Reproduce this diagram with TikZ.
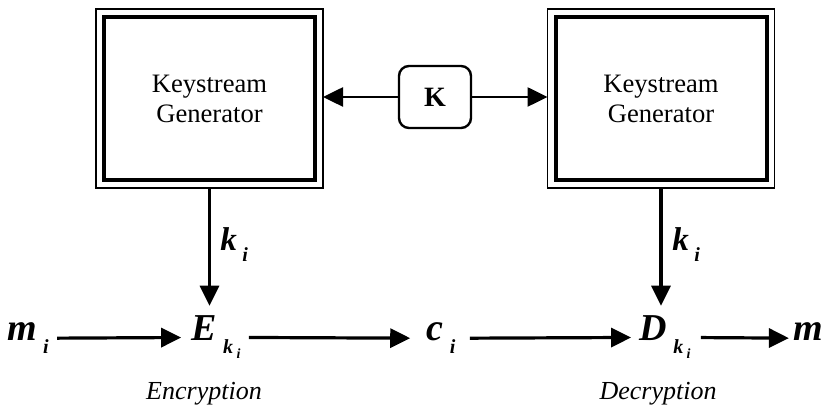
\documentclass[tikz,border=0pt]{standalone}
\usepackage{fontspec}
\setmainfont{Liberation Serif}
\usetikzlibrary{arrows.meta}
\newcommand{\bisub}[2]{{\bfseries\itshape #1}\,\raisebox{-0.33em}{\fontsize{10}{10}\selectfont\bfseries\itshape #2}}
\newcommand{\kisub}{k\,\raisebox{-2.5pt}{\fontsize{7}{7}\selectfont i}}

\begin{document}
\begin{tikzpicture}[x=0.5pt,y=-0.5pt,
    gen/.style={draw,line width=2pt,minimum width=105.5pt,minimum height=81.5pt,outer sep=4pt,
      align=center,font=\fontsize{13.3}{15}\selectfont},
    frame/.style={draw,line width=0.8pt},
    keybox/.style={draw,line width=1.2pt,rounded corners=5pt,minimum width=36pt,minimum height=31pt,
      font=\fontsize{14}{14}\selectfont\bfseries},
    sym/.style={anchor=base,inner sep=5pt,font=\fontsize{19}{19}\selectfont},
    steplabel/.style={anchor=base,font=\fontsize{13}{13}\selectfont\itshape},
    arr/.style={line width=1.6pt,-{Triangle[length=10pt,width=9.5pt]}}]
  \useasboundingbox (0,0) rectangle (824,410);
  \node[gen] (encgen) at (209.5,98.5) {Keystream\\Generator};
  \node[gen] (decgen) at (661,98.5) {Keystream\\Generator};
  \draw[frame] (encgen.north west) rectangle (encgen.south east);
  \draw[frame] (decgen.north west) rectangle (decgen.south east);
  \node[keybox] (key) at (435,97) {K};
  \draw[arr,line width=1.3pt] (key.west) -- (key.west -| encgen.east);
  \draw[arr,line width=1.3pt] (key.east) -- (key.east -| decgen.west);

  \node[sym] (min) at (28,341) {\bisub{m}{i}};
  \node[sym] (enc) at (216,341) {\bisub{E}{\kisub}};
  \node[sym] (ci) at (441,341) {\bisub{c}{i}};
  \node[sym] (dec) at (665,341) {\bisub{D}{\kisub}};
  \node[sym] (mout) at (814,341) {\bisub{m}{i}};
  \node[sym,anchor=base west,inner sep=0pt,font=\fontsize{16.5}{16.5}\selectfont] (kenc) at (220,251) {\bisub{k}{i}};
  \node[sym,anchor=base west,inner sep=0pt,font=\fontsize{16.5}{16.5}\selectfont] (kdec) at (672,251) {\bisub{k}{i}};
  \node[steplabel] (enclab) at (204,400) {Encryption};
  \node[steplabel] (declab) at (658,400) {Decryption};

  \draw[arr] (encgen.south) -- (encgen.south |- enc.north);
  \draw[arr] (decgen.south) -- (decgen.south |- dec.north);
  \draw[arr,shorten <=-1pt] (min) -- (enc);
  \draw[arr,shorten <=-1pt,shorten >=3pt] (enc) -- (ci);
  \draw[arr,shorten <=2pt,shorten >=-1pt] (ci) -- (dec);
  \draw[arr,shorten >=-3pt] (dec) -- (mout);
\end{tikzpicture}
\end{document}
